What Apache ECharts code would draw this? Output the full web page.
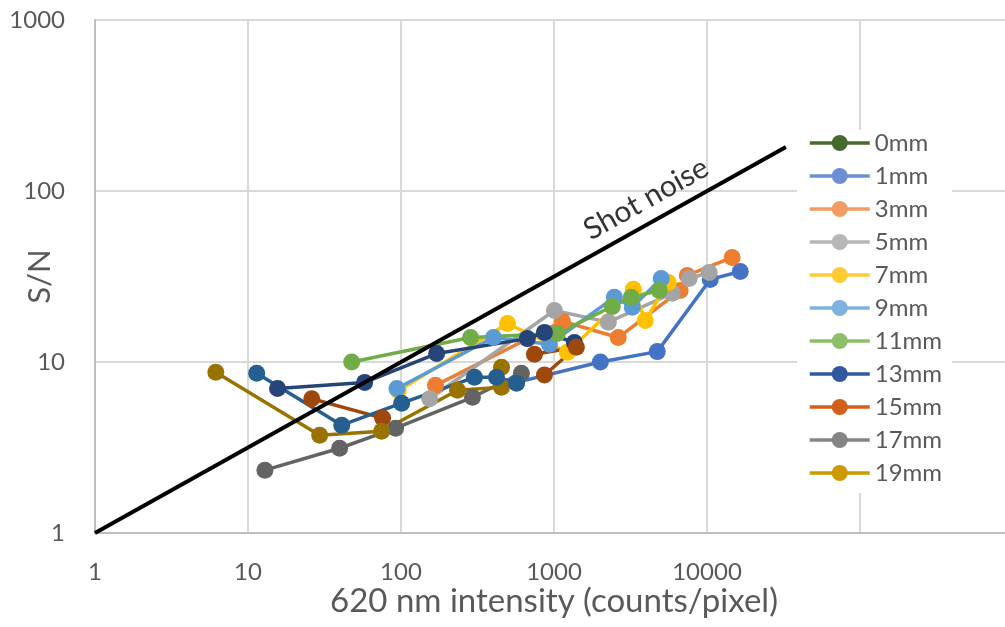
<!DOCTYPE html>
<html>
<head>
<meta charset="utf-8">
<script src="https://cdn.jsdelivr.net/npm/echarts@6/dist/echarts.min.js"></script>
<style>
	html, body {margin: 0; padding: 0; background: #fff;}
	#chart {width: 1005px; height: 627px;}
</style>
</head>
<body>
<div id="chart"></div>
<script>
	// [intensity (counts/pixel), S/N]
	var names = ['0mm', '1mm', '3mm', '5mm', '7mm', '9mm', '11mm', '13mm', '15mm', '17mm', '19mm'];

	var d0mm = [];
	var d1mm = [[569, 7.6], [2010, 10.0], [4730, 11.5], [10500, 30.4], [16500, 33.8]];
	var d3mm = [[168, 7.3], [1135, 17.3], [2630, 13.9], [6680, 26.2], [7430, 32.1], [14600, 40.9]];
	var d5mm = [[154, 6.1], [1006, 20.0], [2265, 17.1], [5930, 25.2], [7650, 30.8], [10330, 33.4]];
	var d7mm = [[96, 6.8], [497, 16.8], [1223, 11.4], [3300, 26.6], [3950, 17.5], [5580, 29.2]];
	var d9mm = [[94, 7.0], [402, 13.9], [933, 12.7], [2480, 23.9], [3250, 20.9], [5020, 30.8]];
	var d11mm = [[47.6, 10.0], [285, 13.9], [1052, 14.7], [2405, 21.1], [3200, 23.9], [4875, 26.2]];
	var d13mm = [[15.6, 7.0], [57.9, 7.6], [171, 11.2], [670, 13.7], [866, 14.9], [1359, 13.0]];
	var d15mm = [[26.1, 6.1], [75.8, 4.7], ['-', '-'], [745, 11.1], [1400, 12.2], [866, 8.4]];
	var d17mm = [[12.9, 2.33], [39.7, 3.13], [92.2, 4.10], [293, 6.22], [612, 8.59]];
	var d19mm = [[6.16, 8.7], [29.4, 3.73], [74.7, 3.94], [234, 6.84], [454, 7.12], [454, 9.31]];
	var dExtra = [[11.4, 8.6], [41, 4.27], [101, 5.74], [302, 8.14], [421, 8.14], [569, 7.51]];
	var shotNoise = [[1, 1], [32800, 181]];
	var shotNoiseLabel = [[4000, 90]];

	var seriesData = [d0mm, d1mm, d3mm, d5mm, d7mm, d9mm, d11mm, d13mm, d15mm, d17mm, d19mm];
	var plotColors = ['#43682B', '#4472C4', '#ED7D31', '#A5A5A5', '#FFC000', '#5B9BD5', '#70AD47', '#264478', '#9E480E', '#636363', '#997300'];
	var legendColors = ['#456A2E', '#6C8FD4', '#F29B62', '#B7B7B7', '#FFCB35', '#7EB1E0', '#8DBF68', '#3258A0', '#D2601A', '#858585', '#CC9A00'];

	var xTicks = [1, 10, 100, 1000, 10000];
	var font = 'Lato, "DejaVu Sans", sans-serif';

	var chart = echarts.init(document.getElementById('chart'));

	var series = names.map(function(n, i){
		return {
			name: n,
			type: 'line',
			data: seriesData[i],
			symbol: 'circle',
			symbolSize: 17,
			color: plotColors[i],
			lineStyle: {width: 3.5, color: plotColors[i]},
			itemStyle: {color: plotColors[i]},
			connectNulls: false,
			z: 3
		};
	});
	series.push({
		name: 'extra',
		type: 'line',
		data: dExtra,
		symbol: 'circle',
		symbolSize: 17,
		lineStyle: {width: 3.5, color: '#255E91'},
		itemStyle: {color: '#255E91'},
		z: 3
	});
	series.push({
		name: 'Shot noise',
		type: 'line',
		data: shotNoise,
		symbol: 'none',
		lineStyle: {width: 4, color: '#000'},
		z: 4
	});
	series.push({
		name: 'shot label',
		type: 'scatter',
		data: shotNoiseLabel,
		symbolSize: 0,
		label: {
			show: true,
			position: 'inside',
			formatter: 'Shot noise',
			rotate: 29.2,
			fontFamily: font,
			fontSize: 30,
			color: '#000'
		},
		z: 4
	});

	var option = {
		animation: false,
		backgroundColor: '#fff',
		grid: {left: 95, top: 20, right: -8, bottom: 94, outerBoundsMode: 'none', containLabel: false},
		legend: {
			orient: 'vertical',
			left: 797,
			top: 130,
			padding: [1, 10, 8, 11],
			backgroundColor: '#fff',
			itemWidth: 60,
			itemHeight: 20,
			itemGap: 9,
			textStyle: {fontFamily: font, fontSize: 24, color: '#595959', lineHeight: 24},
			data: names.map(function(n, i){
				return {
					name: n,
					itemStyle: {color: legendColors[i]},
					lineStyle: {color: legendColors[i], width: 3.5}
				};
			}),
			z: 10
		},
		xAxis: {
			type: 'log',
			logBase: 10,
			min: 1,
			max: 1000000,
			name: '620 nm intensity (counts/pixel)',
			nameLocation: 'middle',
			nameGap: 52,
			nameMoveOverlap: false,
			nameTextStyle: {fontFamily: font, fontSize: 33, color: '#595959'},
			axisLine: {lineStyle: {color: '#bfbfbf', width: 2}},
			axisTick: {show: false},
			splitLine: {show: true, lineStyle: {color: '#d9d9d9', width: 2}},
			axisLabel: {
				margin: 27,
				fontFamily: font,
				fontSize: 24,
				color: '#595959',
				formatter: function(v){
					return xTicks.indexOf(v) >= 0 ? String(v) : '';
				}
			}
		},
		yAxis: {
			type: 'log',
			logBase: 10,
			min: 1,
			max: 1000,
			name: 'S/N',
			nameLocation: 'middle',
			nameGap: 40,
			nameMoveOverlap: false,
			nameTextStyle: {fontFamily: font, fontSize: 31, color: '#595959'},
			axisLine: {show: true, lineStyle: {color: '#bfbfbf', width: 2}},
			axisTick: {show: false},
			splitLine: {show: true, lineStyle: {color: '#d9d9d9', width: 2}},
			axisLabel: {
				margin: 30,
				fontFamily: font,
				fontSize: 24,
				color: '#595959',
				formatter: function(v){ return String(v); }
			}
		},
		series: series
	};

	chart.setOption(option);
</script>
</body>
</html>
